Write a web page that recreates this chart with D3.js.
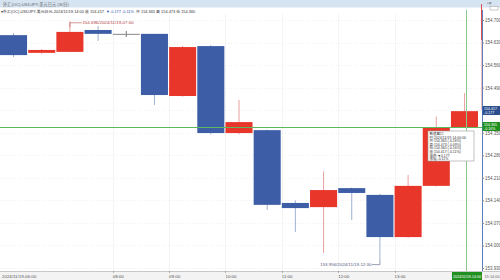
<!DOCTYPE html>
<html><head><meta charset="utf-8">
<script src="https://cdn.jsdelivr.net/npm/d3@7"></script>
<style>html,body{margin:0;padding:0;background:#fff;overflow:hidden}svg{display:block}</style>
</head><body>
<svg id="c" width="500" height="280"></svg>
<script>
const times = ["06:00","06:30","07:00","07:30","08:00","08:30","09:00","09:30","10:00","10:30","11:00","11:30","12:00","12:30","13:00","13:30","14:00"];
const openV  = [154.653,154.598,154.601,154.669,154.657,154.657,154.464,154.619,154.349,154.358,154.132,154.119,154.178,154.157,154.026,154.185,154.365];
const closeV = [154.591,154.607,154.663,154.657,154.657,154.467,154.616,154.349,154.383,154.126,154.116,154.172,154.163,154.026,154.185,154.365,154.417];
const highV  = [154.660,154.610,154.696,154.681,154.666,154.657,154.620,154.622,154.452,154.360,154.140,154.230,154.180,154.160,154.219,154.400,154.473];
const lowV   = [154.585,154.595,154.600,154.635,154.647,154.436,154.462,154.345,154.345,154.110,154.042,153.977,154.079,153.956,154.024,154.183,154.365];
const yTicks = [154.700,154.630,154.560,154.490,154.420,154.350,154.280,154.210,154.140,154.070,154.000,153.930];
const xTickTimes = ["06:00","08:00","09:00","10:00","11:00","12:00","13:00"];
const xTickLabels = ["2024/11/19-06:00","08:00","09:00","10:00","11:00","12:00","13:00"];
const tipLines = ["数值窗口","时:2024/11/19-14:00:00","开:154.365 (-0.16%)","高:154.473 (-0.09%)","低:154.365 (-0.16%)","收:154.417 (-0.11%)","涨跌:▼0.177","涨幅:-0.11%"];
const titleSegs = [
  {t:"▾外汇(OC)-USDJPY-美元日元-2024/11/19-14:00 收 154.417", c:"#333"},
  {t:"▼-0.177 -0.11%", c:"#2a55b0"},
  {t:"开 154.365 高 154.473 低 154.365", c:"#333"}
];

const svg = d3.select("#c");
const font = "'Liberation Sans', Arial, 'Noto Sans CJK SC', sans-serif";
const RED = "#e8362b", BLUE = "#3d5ea6";
const plotTop = 10, plotBottom = 271, axisX = 482;

const x = d3.scaleBand().domain(times).range([0, 478]).paddingInner(0.04).paddingOuter(0);
const y = d3.scaleLinear().domain([153.930, 154.700]).range([268, 20]);

// title bar
svg.append("rect").attr("x",0).attr("y",0).attr("width",500).attr("height",7.5).attr("fill","#d6e4f1");
svg.append("text").attr("x",3).attr("y",5.5).attr("font-size",4.2).attr("fill","#666").attr("font-family",font)
  .text("外汇(OC)-USDJPY-美元日元 (30分)");
svg.append("text").attr("x",487).attr("y",5).attr("font-size",5).attr("fill","#555").attr("font-family",font).text("▫×");
let tx = 1;
titleSegs.forEach(s => {
  const t = svg.append("text").attr("x",tx).attr("y",12.5).attr("font-size",3.9).attr("font-family",font).attr("fill",s.c).text(s.t);
  tx += t.node().getComputedTextLength() + 2;
});

// gridlines
const g = svg.append("g");
g.selectAll("line.hg").data(yTicks).join("line").attr("class","hg")
  .attr("x1",0).attr("x2",axisX).attr("y1",d=>Math.round(y(d))+0.5).attr("y2",d=>Math.round(y(d))+0.5)
  .attr("stroke","#e6e6e6").attr("stroke-width",0.6).attr("stroke-dasharray","1,2");
g.selectAll("line.vg").data(xTickTimes.slice(1)).join("line").attr("class","vg")
  .attr("x1",d=>Math.round(x(d))+0.5).attr("x2",d=>Math.round(x(d))+0.5).attr("y1",plotTop+4).attr("y2",plotBottom)
  .attr("stroke","#ececec").attr("stroke-width",0.6);

// candles
const idx = d3.range(times.length);
const colorOf = i => Math.abs(closeV[i]-openV[i]) < 0.002 ? "#888" : (closeV[i] > openV[i] ? RED : BLUE);
const wickOf = i => Math.abs(closeV[i]-openV[i]) < 0.002 ? "#777" : (closeV[i] > openV[i] ? "#eaa0a0" : "#9fb2d2");
const cg = svg.append("g");
cg.selectAll("line.w").data(idx).join("line").attr("class","w")
  .attr("x1",i=>x(times[i])+x.bandwidth()/2).attr("x2",i=>x(times[i])+x.bandwidth()/2)
  .attr("y1",i=>y(highV[i])).attr("y2",i=>y(lowV[i]))
  .attr("stroke",i=>wickOf(i)).attr("stroke-width",1);
cg.selectAll("rect.b").data(idx).join("rect").attr("class","b")
  .attr("x",i=>x(times[i])).attr("width",x.bandwidth())
  .attr("y",i=>y(Math.max(openV[i],closeV[i])))
  .attr("height",i=>Math.max(1,Math.abs(y(openV[i])-y(closeV[i]))))
  .attr("fill",i=>colorOf(i));

// crosshair
svg.append("line").attr("x1",0).attr("x2",axisX).attr("y1",127.5).attr("y2",127.5).attr("stroke","#5cb85c").attr("stroke-width",1);
const lastX = Math.round(x(times[times.length-1]) + x.bandwidth()/2 + 1.5) + 0.5;
svg.append("line").attr("x1",lastX).attr("x2",lastX).attr("y1",plotTop).attr("y2",plotBottom).attr("stroke","#8cc78c").attr("stroke-width",1);

// high/low annotations
const hiI = 2, loI = 13;
const hx = x(times[hiI])+x.bandwidth()/2, hy = y(highV[hiI]);
svg.append("path").attr("d",`M${hx},${hy+6}V${hy+1.5}H${hx+12}`).attr("fill","none").attr("stroke","#b35050").attr("stroke-width",0.6);
svg.append("text").attr("x",hx+12.5).attr("y",hy+3.2).attr("font-size",4.4).attr("fill","#b04040").attr("font-family",font)
  .text(highV[hiI].toFixed(3)+"/2024/11/19-"+times[hiI]);
const lx = x(times[loI])+x.bandwidth()/2, ly = y(lowV[loI]);
svg.append("path").attr("d",`M${lx},${ly}V${ly+5}H${lx-8}`).attr("fill","none").attr("stroke","#556080").attr("stroke-width",0.6);
svg.append("text").attr("x",lx-8.5).attr("y",ly+6.6).attr("text-anchor","end").attr("font-size",4.4).attr("fill","#556080").attr("font-family",font)
  .text(lowV[loI].toFixed(3)+"/2024/11/19-"+times[loI]);

// tooltip box
const tb = svg.append("g").attr("transform","translate(428,131)");
tb.append("rect").attr("width",46).attr("height",30).attr("fill","#fff").attr("stroke","#999").attr("stroke-width",0.6);
tb.selectAll("text").data(tipLines).join("text").attr("x",1.5).attr("y",(d,i)=>3.9+i*3.6)
  .attr("font-size",3.5).attr("fill","#333").attr("font-family",font).text(d=>d);

// right axis
svg.append("rect").attr("x",axisX).attr("y",plotTop).attr("width",500-axisX).attr("height",plotBottom-plotTop).attr("fill","#fff");
svg.append("line").attr("x1",axisX+0.5).attr("x2",axisX+0.5).attr("y1",plotTop).attr("y2",plotBottom).attr("stroke","#5a7fc0").attr("stroke-width",1);
svg.append("line").attr("x1",axisX-0.5).attr("x2",axisX-0.5).attr("y1",4).attr("y2",40).attr("stroke","#e05050").attr("stroke-width",1);
svg.append("line").attr("x1",axisX-0.5).attr("x2",axisX-0.5).attr("y1",40).attr("y2",110).attr("stroke","#f0b0b0").attr("stroke-width",0.8);
const ya = d3.axisRight(y).tickValues(yTicks).tickSize(2).tickFormat(d => Math.abs(d-154.42) < 1e-6 ? "" : d3.format(".3f")(d));
const yg = svg.append("g").attr("transform",`translate(${axisX},0)`).call(ya);
yg.select(".domain").remove();
yg.selectAll("line").attr("stroke","#888");
yg.selectAll("text").attr("font-size",4.5).attr("fill","#555").attr("font-family",font).attr("x",3);
svg.append("rect").attr("x",490).attr("y",6.5).attr("width",8).attr("height",3.5).attr("fill","#fff").attr("stroke","#999").attr("stroke-width",0.5);

// price labels
const lb = svg.append("g");
lb.append("rect").attr("x",axisX+0.5).attr("y",106).attr("width",17.5).attr("height",9).attr("fill","#2b4f8e");
lb.append("text").attr("x",axisX+2).attr("y",109.8).attr("font-size",3.6).attr("fill","#fff").attr("font-family",font).text(closeV[16].toFixed(3));
lb.append("text").attr("x",axisX+2).attr("y",114).attr("font-size",3.6).attr("fill","#fff").attr("font-family",font).text("-0.177");
lb.append("rect").attr("x",axisX+0.5).attr("y",122).attr("width",17.5).attr("height",9).attr("fill","#1f8f1f");
lb.append("text").attr("x",axisX+2).attr("y",125.8).attr("font-size",3.6).attr("fill","#fff").attr("font-family",font).text(openV[16].toFixed(3));
lb.append("text").attr("x",axisX+2).attr("y",130).attr("font-size",3.6).attr("fill","#fff").attr("font-family",font).text("-0.16%");

// bottom axis
svg.append("rect").attr("x",0).attr("y",plotBottom).attr("width",500).attr("height",280-plotBottom).attr("fill","#f3f3f3");
svg.append("line").attr("x1",0).attr("x2",500).attr("y1",plotBottom+0.5).attr("y2",plotBottom+0.5).attr("stroke","#aaa").attr("stroke-width",0.6);
const xa = svg.append("g");
xa.selectAll("text").data(xTickTimes).join("text")
  .attr("x",(d,i)=> i===0 ? 2 : x(d)).attr("y",277.5).attr("font-size",4.4).attr("fill","#555").attr("font-family",font)
  .text((d,i)=>xTickLabels[i]);
xa.selectAll("line").data(xTickTimes.slice(1)).join("line")
  .attr("x1",d=>Math.round(x(d))+0.5).attr("x2",d=>Math.round(x(d))+0.5).attr("y1",plotBottom).attr("y2",plotBottom+2)
  .attr("stroke","#888").attr("stroke-width",0.6);
const lastLeft = x(times[times.length-1]) + 1;
svg.append("rect").attr("x",lastLeft).attr("y",plotBottom+1).attr("width",axisX-lastLeft).attr("height",8).attr("fill","#1f8f1f");
svg.append("text").attr("x",lastLeft+1).attr("y",277.5).attr("font-size",4.2).attr("fill","#fff").attr("font-family",font)
  .attr("textLength",axisX-lastLeft-2).attr("lengthAdjust","spacingAndGlyphs").text("2024/11/19-14:00");
svg.append("text").attr("x",484.5).attr("y",277.5).attr("font-size",4).attr("fill","#666").attr("font-family",font)
  .attr("textLength",15).attr("lengthAdjust","spacingAndGlyphs").text("19-14:00");
</script>
</body></html>
